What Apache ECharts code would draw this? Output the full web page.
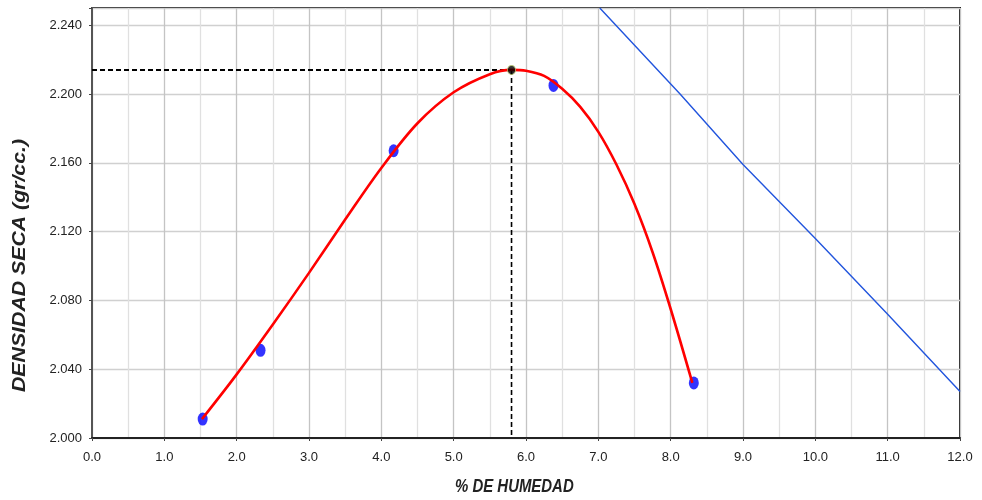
<!DOCTYPE html>
<html>
<head>
<meta charset="utf-8">
<script src="https://cdn.jsdelivr.net/npm/echarts@6/dist/echarts.min.js"></script>
<style>html,body{margin:0;padding:0;background:#fff;}#chart{width:982px;height:500px;}</style>
</head>
<body>
<div id="chart"></div>
<script>
// Measured points (moisture %, dry density)
const pointsX = [1.53, 2.33, 4.17, 6.38, 8.32];
const pointsY = [2.011, 2.051, 2.167, 2.205, 2.032];
// Fitted compaction curve
const curveX = [1.52, 2.0, 2.5, 3.0, 3.5, 4.0, 4.5, 5.0, 5.5, 5.8, 6.0, 6.25, 6.5, 6.75, 7.0, 7.25, 7.5, 7.75, 8.0, 8.30];
const curveY = [2.011, 2.037, 2.066, 2.096, 2.127, 2.157, 2.183, 2.201, 2.2115, 2.214, 2.2135, 2.2105, 2.203, 2.1925, 2.178, 2.159, 2.136, 2.108, 2.075, 2.032];
// Zero air voids line
const zavX = [7.02, 8.13, 9.0, 10.0, 11.0, 12.0];
const zavY = [2.250, 2.200, 2.159, 2.116, 2.072, 2.027];
// Optimum
const optX = 5.8;
const optY = 2.214;
// Axes
const xMin = 0, xMax = 12, xStep = 1;
const yMin = 2.000, yMax = 2.250, yStep = 0.04;
const xTitle = '% DE HUMEDAD';
const yTitle = 'DENSIDAD SECA (gr/cc.)';

const zip = (a, b) => a.map((v, i) => [v, b[i]]);
const sans = "'Liberation Sans', Arial, sans-serif";

const chart = echarts.init(document.getElementById('chart'), null, {renderer: 'canvas'});
chart.setOption({
  animation: false,
  backgroundColor: '#ffffff',
  grid: {left: 92, right: 22, top: 8, bottom: 62, show: true, borderColor: '#222', borderWidth: 2, backgroundColor: 'transparent'},
  xAxis: {
    type: 'value', min: xMin, max: xMax, interval: xStep,
    axisLine: {show: true, onZero: false, lineStyle: {color: '#222', width: 2}},
    axisTick: {show: true, inside: false, length: 3, lineStyle: {color: '#444'}},
    axisLabel: {margin: 13, color: '#222', fontSize: 13, fontFamily: sans, formatter: v => v.toFixed(1)},
    splitLine: {show: true, lineStyle: {color: '#c4c4c4', width: 1.3}},
    minorTick: {show: true, splitNumber: 2, length: 0},
    minorSplitLine: {show: true, lineStyle: {color: '#e0e0e0', width: 1.3}}
  },
  yAxis: {
    type: 'value', min: yMin, max: yMax, interval: yStep,
    axisLine: {show: true, onZero: false, lineStyle: {color: '#555', width: 2}},
    axisTick: {show: true, inside: false, length: 3, lineStyle: {color: '#444'}},
    axisLabel: {margin: 10, color: '#222', fontSize: 13, fontFamily: sans,
      formatter: v => (v > yMax - 0.005 ? '' : v.toFixed(3))},
    splitLine: {show: true, lineStyle: {color: '#d0d0d0', width: 1.3}}
  },
  graphic: [
    {type: 'text', x: 455, y: 478, scaleX: 0.83,
      style: {text: xTitle, fontSize: 18, fontWeight: 'bold', fontStyle: 'italic', fontFamily: sans, fill: '#222'}},
    {type: 'text', x: 10, y: 392, rotation: Math.PI / 2, scaleX: 1.12,
      style: {text: yTitle, fontSize: 19, fontWeight: 'bold', fontStyle: 'italic', fontFamily: sans, fill: '#222', textVerticalAlign: 'top'}}
  ],
  series: [
    {type: 'line', data: zip(zavX, zavY), symbol: 'none', lineStyle: {color: '#2255dd', width: 1.4}, z: 2},
    {type: 'line', data: [[xMin, optY], [optX, optY]], symbol: 'none', lineStyle: {color: '#000', width: 2, type: [5, 3]}, z: 3},
    {type: 'line', data: [[optX, optY], [optX, yMin]], symbol: 'none', lineStyle: {color: '#000', width: 1.6, type: [5, 3]}, z: 3},
    {type: 'scatter', data: zip(pointsX, pointsY), symbol: 'circle', symbolSize: [10, 13], itemStyle: {color: '#0000ff'}, z: 4},
    {type: 'line', data: zip(curveX, curveY), symbol: 'none', smooth: 0.33, lineStyle: {color: '#ff0000', width: 2.6}, z: 5},
    {type: 'scatter', data: [[optX, optY]], symbol: 'circle', symbolSize: [8, 9], itemStyle: {color: '#000', borderColor: '#b8c870', borderWidth: 1}, z: 6}
  ]
});
</script>
</body>
</html>
